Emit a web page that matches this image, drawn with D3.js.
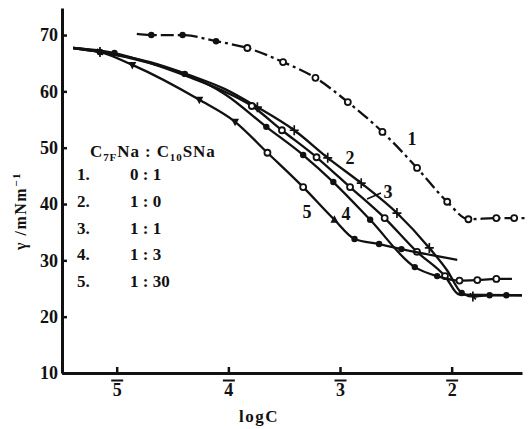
<!DOCTYPE html>
<html>
<head>
<meta charset="utf-8">
<script src="https://cdn.jsdelivr.net/npm/d3@7"></script>
<style>
  html, body { margin: 0; padding: 0; background: #fff; }
  svg { display: block; }
  text { font-family: "Liberation Serif", "Times New Roman", serif; fill: #111; }
</style>
</head>
<body>
<svg id="chart" width="530" height="429"></svg>
<script>
// Surface tension γ (mN/m) against log C for C7F Na / C10SNa mixtures.
// log C is negative; the axis labels use bar notation (5̄ = -5).

// Curve 1: 0 : 1
const logC1  = [-4.82, -4.69, -4.41, -4.11, -3.83, -3.51, -3.22, -2.93, -2.62, -2.31, -2.04, -1.85, -1.60, -1.44, -1.32];
const gamma1 = [70.2, 70.0, 70.0, 68.9, 67.7, 65.2, 62.4, 58.1, 52.8, 46.4, 40.4, 37.3, 37.5, 37.5, 37.5];

// Curve 2: 1 : 0
const logC2  = [-5.39, -5.15, -4.70, -4.35, -4.03, -3.74, -3.41, -3.11, -2.81, -2.49, -2.20, -2.04, -1.91, -1.81, -1.66, -1.51, -1.37];
const gamma2 = [67.7, 67.0, 65.2, 62.9, 60.4, 57.2, 53.1, 48.2, 43.7, 38.4, 32.2, 28.2, 24.2, 23.6, 23.8, 23.8, 23.8];

// Curve 3: 1 : 1
const logC3  = [-5.39, -5.02, -4.70, -4.36, -4.06, -3.79, -3.52, -3.21, -2.91, -2.60, -2.31, -2.06, -1.93, -1.37];
const gamma3 = [67.7, 66.8, 65.0, 62.6, 60.2, 57.4, 53.1, 48.3, 43.0, 37.5, 31.5, 27.2, 23.9, 23.8];

// Curve 4: 1 : 3
const logC4  = [-5.39, -5.15, -4.70, -4.39, -4.03, -3.66, -3.33, -3.06, -2.73, -2.33, -2.13, -1.93, -1.77, -1.60, -1.46];
const gamma4 = [67.7, 67.0, 65.0, 63.1, 59.5, 53.7, 48.7, 43.9, 37.2, 28.8, 27.2, 26.4, 26.5, 26.7, 26.7];

// Curve 5: 1 : 30
const logC5  = [-5.39, -5.15, -4.86, -4.26, -3.94, -3.65, -3.33, -3.05, -2.87, -2.65, -2.45, -1.95];
const gamma5 = [67.7, 67.0, 64.7, 58.5, 54.6, 49.1, 43.0, 37.2, 33.8, 32.9, 32.0, 30.1];

const curveNames   = ["1", "2", "3", "4", "5"];
const legendIndex  = ["1.", "2.", "3.", "4.", "5."];
const legendRatios = ["0 : 1", "1 : 0", "1 : 1", "1 : 3", "1 : 30"];
const yTickValues  = [10, 20, 30, 40, 50, 60, 70];
const xTickValues  = [-5, -4, -3, -2];
const xTickLabels  = ["5", "4", "3", "2"];

// ---- drawing styles ----
// point symbols: '-' none, '.' dot, 'o' ring, '*' star, '^' / 'v' triangles
const curveStyles = [
  { marks: "-...oooooooooo-",   dash: "13,4,3,4" },
  { marks: "-*---******-.*..-", dash: null },
  { marks: "-.---ooooooo--",    dash: null },
  { marks: "-.-.-......ooo-",   dash: null },
  { marks: "-.vvvoo^...-",      dash: null }
];
// curve number tags, placed in data units
const curveTags = [
  { logC: -2.355, gamma: 51.5 },
  { logC: -2.91,  gamma: 48.2 },
  { logC: -2.57,  gamma: 42.1 },
  { logC: -2.946, gamma: 38.2 },
  { logC: -3.296, gamma: 38.6 }
];

const curves = [
  { x: logC1, y: gamma1 }, { x: logC2, y: gamma2 }, { x: logC3, y: gamma3 },
  { x: logC4, y: gamma4 }, { x: logC5, y: gamma5 }
];

const ink = "#111";
const svg = d3.select("#chart");

const x = d3.scaleLinear().domain([-5.49, -1.37]).range([62, 522]);
const y = d3.scaleLinear().domain([10, 74.8]).range([373, 8]);

// ---- axes ----
const yAxis = d3.axisLeft(y).tickValues(yTickValues).tickSize(-5).tickSizeOuter(0).tickPadding(4);
const gy = svg.append("g").attr("transform", "translate(62,0)").call(yAxis);
gy.select(".domain").attr("stroke", ink).attr("stroke-width", 3);
gy.selectAll(".tick line").attr("stroke", ink).attr("stroke-width", 2.5);
gy.selectAll(".tick text")
  .attr("font-size", 18).attr("font-weight", "bold")
  .attr("font-family", "Liberation Serif, serif").attr("fill", ink);

const xAxis = d3.axisBottom(x).tickValues(xTickValues).tickSize(-6).tickSizeOuter(0).tickPadding(10)
  .tickFormat((d, i) => xTickLabels[i]);
const gx = svg.append("g").attr("transform", "translate(0,373)").call(xAxis);
gx.select(".domain").attr("stroke", ink).attr("stroke-width", 2.8);
gx.selectAll(".tick line").attr("stroke", ink).attr("stroke-width", 2.5);
gx.selectAll(".tick text")
  .attr("font-size", 18).attr("font-weight", "bold")
  .attr("font-family", "Liberation Serif, serif").attr("fill", ink);
// overbars on the negative characteristics
gx.selectAll(".tick").append("line")
  .attr("x1", -6).attr("x2", 6).attr("y1", 7.5).attr("y2", 7.5)
  .attr("stroke", ink).attr("stroke-width", 2);
svg.selectAll(".domain").attr("fill", "none");

// axis titles
svg.append("text")
  .attr("x", 259).attr("y", 422).attr("text-anchor", "middle")
  .attr("font-size", 17).attr("font-weight", "bold").attr("letter-spacing", 1.5)
  .text("logC");

const yTitle = svg.append("text")
  .attr("transform", "translate(26,211) rotate(-90)")
  .attr("text-anchor", "middle")
  .attr("font-size", 16).attr("font-weight", "bold").attr("letter-spacing", 1.5);
yTitle.append("tspan").text("γ /mNm");
yTitle.append("tspan").attr("dy", -6).attr("font-size", 11).text("−1");

// ---- curves ----
const line = d3.line().x(d => x(d[0])).y(d => y(d[1])).curve(d3.curveMonotoneX);

function marker(g, kind, cx, cy) {
  if (kind === ".") {
    g.append("circle").attr("cx", cx).attr("cy", cy).attr("r", 3.2).attr("fill", ink);
  } else if (kind === "o") {
    g.append("circle").attr("cx", cx).attr("cy", cy).attr("r", 3)
      .attr("fill", "#fff").attr("stroke", ink).attr("stroke-width", 1.8);
  } else if (kind === "*") {
    g.append("path")
      .attr("d", `M${cx - 4.5},${cy}H${cx + 4.5}M${cx},${cy - 5}V${cy + 5}M${cx - 3},${cy - 3}L${cx + 3},${cy + 3}`)
      .attr("stroke", ink).attr("stroke-width", 1.7).attr("fill", "none");
  } else if (kind === "^" || kind === "v") {
    const s = kind === "^" ? 1 : -1;
    g.append("path")
      .attr("d", `M${cx},${cy - 4.5 * s}L${cx + 4},${cy + 3 * s}L${cx - 4},${cy + 3 * s}Z`)
      .attr("fill", ink);
  }
}

curves.forEach((c, i) => {
  const pts = c.x.map((v, k) => [v, c.y[k]]);
  const g = svg.append("g");
  g.append("path")
    .attr("d", line(pts))
    .attr("fill", "none").attr("stroke", ink).attr("stroke-width", 2.3)
    .attr("stroke-linejoin", "round")
    .attr("stroke-dasharray", curveStyles[i].dash);
  pts.forEach((p, k) => marker(g, curveStyles[i].marks[k], x(p[0]), y(p[1])));
});

// curve number tags
curveTags.forEach((t, i) => {
  svg.append("text")
    .attr("x", x(t.logC)).attr("y", y(t.gamma))
    .attr("text-anchor", "middle").attr("dominant-baseline", "central")
    .attr("font-size", 18).attr("font-weight", "bold").text(curveNames[i]);
});
// leader from tag 3 to its curve
svg.append("line")
  .attr("x1", x(-2.758)).attr("y1", y(40.9))
  .attr("x2", x(-2.633)).attr("y2", y(41.95))
  .attr("stroke", ink).attr("stroke-width", 1.5);

// ---- legend ----
const legend = svg.append("g").attr("font-size", 17).attr("font-weight", "bold");
const head = legend.append("text").attr("x", 90).attr("y", 157).attr("letter-spacing", 0.9);
head.append("tspan").text("C");
head.append("tspan").attr("font-size", 11).attr("dy", 4).text("7F");
head.append("tspan").attr("dy", -4).text("Na : C");
head.append("tspan").attr("font-size", 11).attr("dy", 4).text("10");
head.append("tspan").attr("dy", -4).text("SNa");

legendIndex.forEach((lab, i) => {
  const by = 180 + i * 26.8;
  legend.append("text").attr("x", 77).attr("y", by).text(lab);
  legend.append("text").attr("x", 130).attr("y", by).attr("xml:space", "preserve").text(legendRatios[i]);
});
</script>
</body>
</html>
